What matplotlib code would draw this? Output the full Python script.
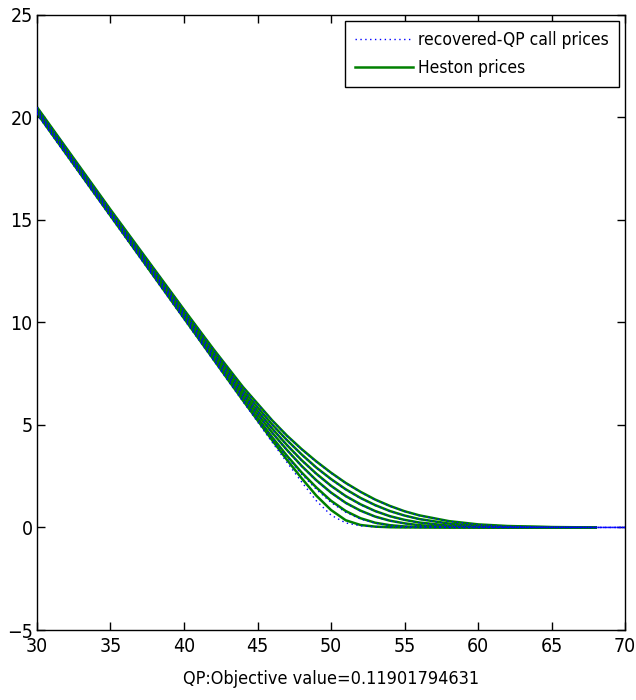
import matplotlib
matplotlib.use("Agg")
import matplotlib.pyplot as plt

# ---------------- data ----------------
strikes = [30, 35, 40, 42, 44, 46, 47, 48, 49, 50, 51, 52, 53, 54, 55, 56, 58, 60, 62, 65, 68, 70]

heston_1 = [20.20, 15.20, 10.20, 8.20, 6.20, 4.25, 3.30, 2.40, 1.55, 0.85, 0.35, 0.12, 0.04, 0.01, 0.00, 0.00, 0.00, 0.00, 0.00, 0.00, 0.00, 0.00]
heston_2 = [20.25, 15.25, 10.25, 8.25, 6.30, 4.40, 3.50, 2.68, 1.95, 1.30, 0.80, 0.45, 0.23, 0.11, 0.05, 0.02, 0.00, 0.00, 0.00, 0.00, 0.00, 0.00]
heston_3 = [20.30, 15.30, 10.30, 8.32, 6.42, 4.62, 3.78, 3.00, 2.30, 1.70, 1.20, 0.82, 0.53, 0.33, 0.20, 0.11, 0.03, 0.01, 0.00, 0.00, 0.00, 0.00]
heston_4 = [20.35, 15.35, 10.40, 8.45, 6.55, 4.82, 4.02, 3.28, 2.62, 2.03, 1.53, 1.13, 0.80, 0.55, 0.37, 0.24, 0.09, 0.03, 0.01, 0.00, 0.00, 0.00]
heston_5 = [20.40, 15.40, 10.50, 8.56, 6.70, 5.02, 4.26, 3.56, 2.92, 2.36, 1.86, 1.44, 1.09, 0.80, 0.58, 0.41, 0.19, 0.08, 0.03, 0.01, 0.00, 0.00]
heston_6 = [20.50, 15.50, 10.62, 8.70, 6.86, 5.22, 4.48, 3.82, 3.22, 2.67, 2.17, 1.74, 1.36, 1.05, 0.79, 0.59, 0.31, 0.15, 0.07, 0.02, 0.00, 0.00]

qp_1 = [20.15, 15.15, 10.15, 8.15, 6.15, 4.15, 3.18, 2.22, 1.30, 0.60, 0.22, 0.08, 0.03, 0.01, 0.00, 0.00, 0.00, 0.00, 0.00, 0.00, 0.00, 0.00]
qp_2 = [20.20, 15.20, 10.22, 8.22, 6.25, 4.34, 3.44, 2.60, 1.86, 1.22, 0.74, 0.41, 0.21, 0.10, 0.05, 0.02, 0.00, 0.00, 0.00, 0.00, 0.00, 0.00]
qp_3 = [20.28, 15.28, 10.28, 8.30, 6.40, 4.60, 3.76, 2.98, 2.28, 1.68, 1.18, 0.80, 0.52, 0.32, 0.19, 0.10, 0.03, 0.01, 0.00, 0.00, 0.00, 0.00]
qp_4 = [20.33, 15.33, 10.38, 8.43, 6.53, 4.80, 4.00, 3.26, 2.60, 2.01, 1.51, 1.11, 0.79, 0.54, 0.36, 0.23, 0.08, 0.03, 0.01, 0.00, 0.00, 0.00]
qp_5 = [20.38, 15.38, 10.48, 8.54, 6.68, 5.00, 4.24, 3.54, 2.90, 2.34, 1.84, 1.42, 1.07, 0.79, 0.57, 0.40, 0.18, 0.07, 0.03, 0.01, 0.00, 0.00]
qp_6 = [20.48, 15.48, 10.60, 8.68, 6.84, 5.20, 4.46, 3.80, 3.20, 2.65, 2.15, 1.72, 1.34, 1.04, 0.78, 0.58, 0.30, 0.14, 0.06, 0.02, 0.00, 0.00]

heston_series = [heston_1, heston_2, heston_3, heston_4, heston_5, heston_6]
qp_series = [qp_1, qp_2, qp_3, qp_4, qp_5, qp_6]
heston_last_strike = 68

legend_labels = ["recovered-QP call prices", "Heston prices"]
x_label = "QP:Objective value=0.11901794631"
x_ticks = [30, 35, 40, 45, 50, 55, 60, 65, 70]
y_ticks = [-5, 0, 5, 10, 15, 20, 25]

# ---------------- style ----------------
plt.rcParams["font.family"] = ["DejaVu Sans"]
plt.rcParams["font.stretch"] = "condensed"

fig = plt.figure(figsize=(6.36, 7.0), dpi=100)
ax = fig.add_axes([0.058, 0.1, 0.925, 0.879])

green = (0.0, 0.5, 0.0)
blue = (0.0, 0.0, 1.0)

n_h = sum(1 for k in strikes if k <= heston_last_strike)
h_handle = None
q_handle = None
for hs in heston_series:
    h_handle, = ax.plot(strikes[:n_h], hs[:n_h], color=green, lw=1.8, zorder=2)
for qs in qp_series:
    q_handle, = ax.plot(strikes, qs, color=blue, lw=1.0, ls=(0, (1, 2.5)), zorder=3)

ax.set_xlim(30, 70)
ax.set_ylim(-5, 25)
ax.set_xticks(x_ticks)
ax.set_yticks(y_ticks)
ax.tick_params(direction="in", length=6, width=1, top=True, right=True,
               labelsize=14)
ax.tick_params(axis="x", pad=5)
ax.tick_params(axis="y", pad=3)
for s in ax.spines.values():
    s.set_linewidth(1.0)
ax.set_xlabel(x_label, fontsize=13, labelpad=10)

leg = ax.legend([q_handle, h_handle], legend_labels, loc="upper right",
                fontsize=12.5, frameon=True, fancybox=False, framealpha=1,
                edgecolor="black", handlelength=3.3, borderaxespad=0.35,
                handletextpad=0.3, labelspacing=0.55, borderpad=0.6)
leg.get_frame().set_linewidth(1.0)

fig.savefig("out.png", dpi=100)
